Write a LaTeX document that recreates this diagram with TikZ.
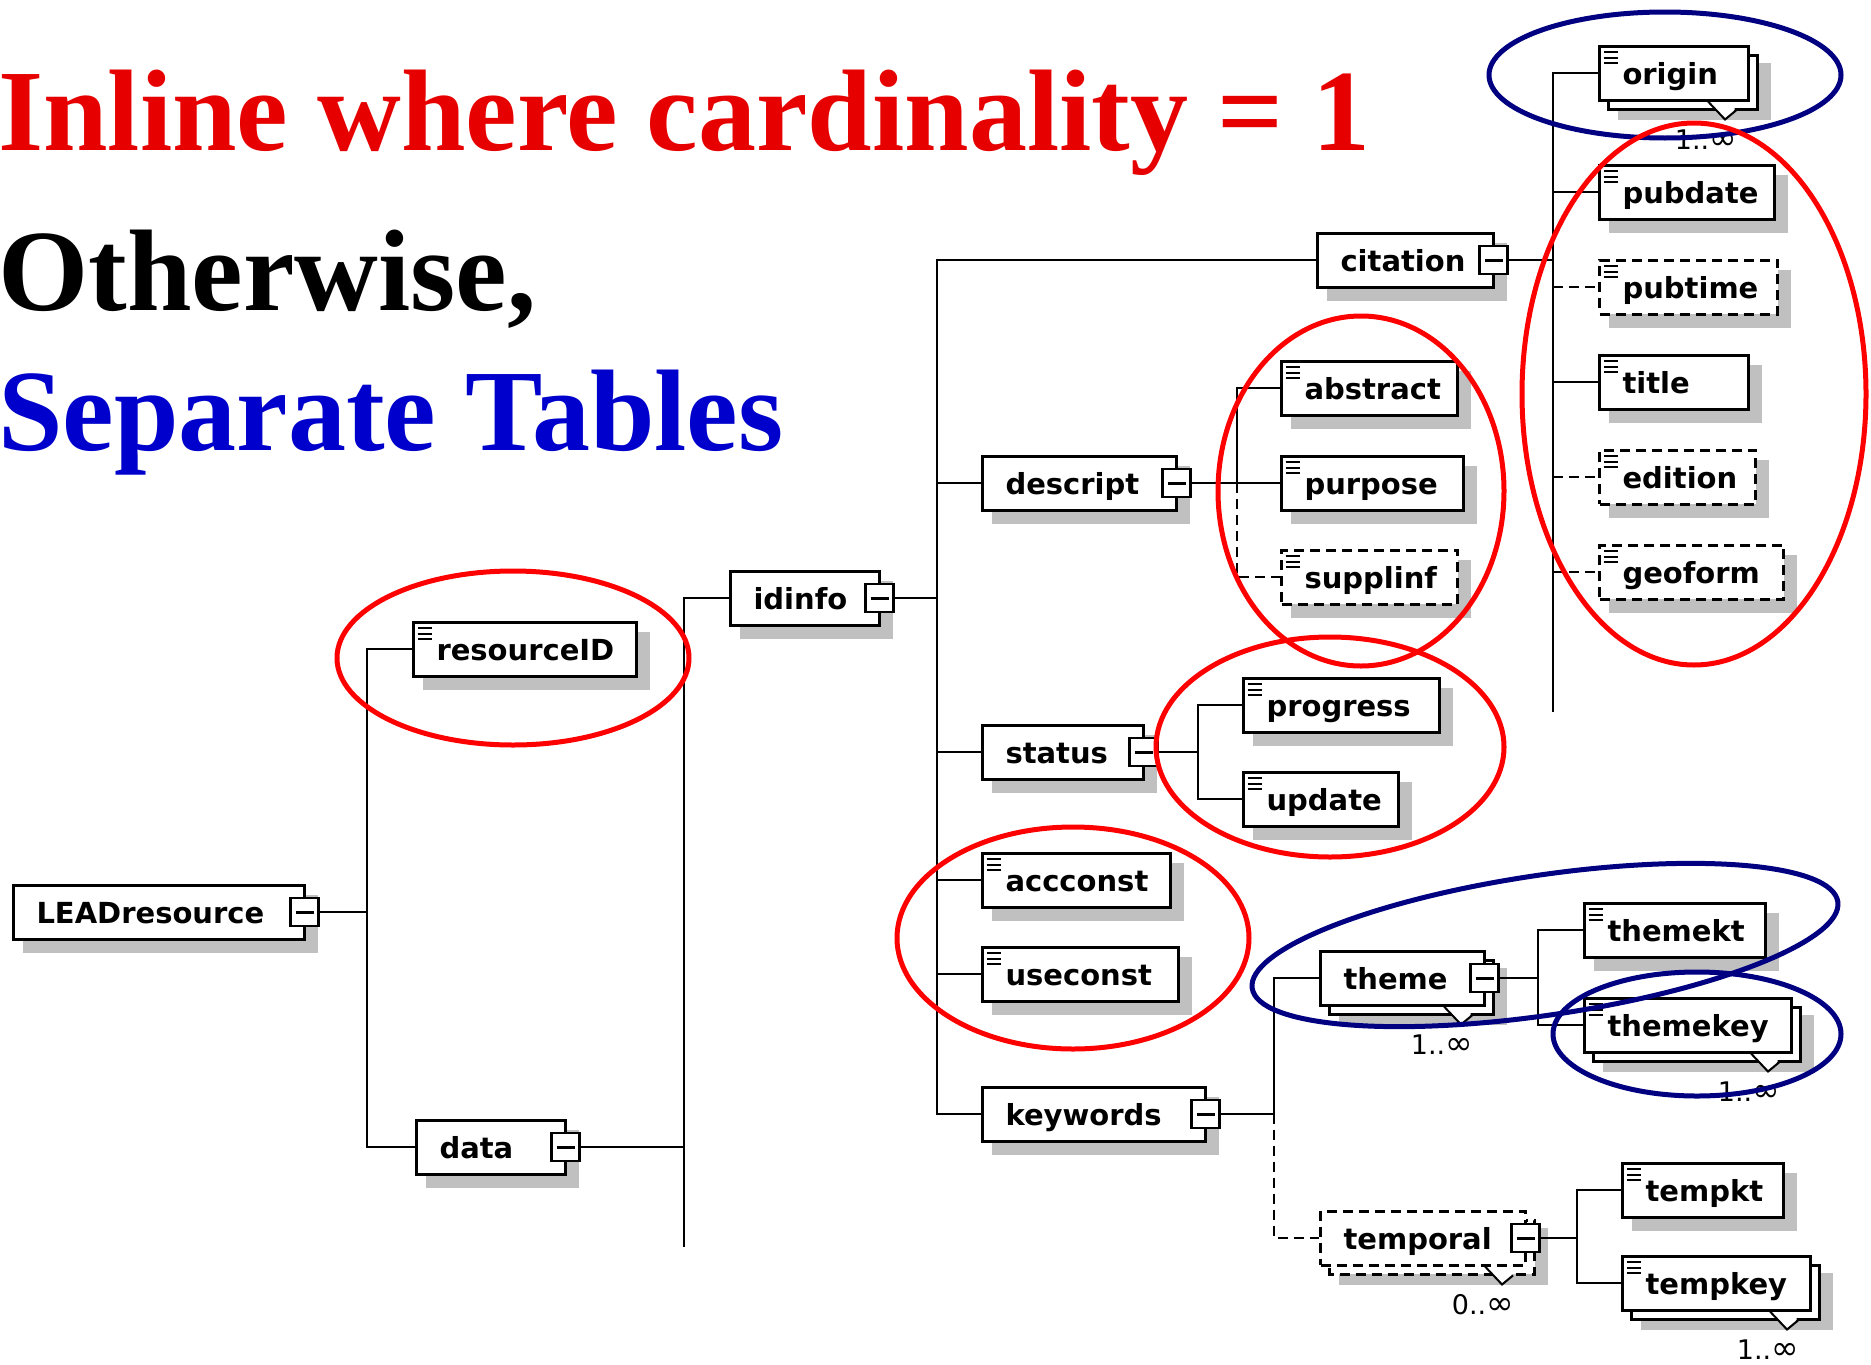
\documentclass[tikz,border=0pt]{standalone}
\usepackage{fontspec}
\newfontfamily\boxfont{DejaVu Sans}
\newfontfamily\titlefont{Liberation Serif}
\definecolor{titlered}{RGB}{230,0,0}
\definecolor{titleblue}{RGB}{0,0,204}
\definecolor{ellred}{RGB}{255,0,0}
\definecolor{ellblue}{RGB}{0,0,128}
\definecolor{shadowgray}{RGB}{192,192,192}
\tikzset{
  conn/.style={line width=2.5pt},
  optconn/.style={line width=2.5pt, dash pattern=on 10pt off 6pt},
  elembox/.style={draw, line width=3pt, fill=white, rectangle, anchor=west,
    inner xsep=23pt, inner ysep=0pt, text height=38.5pt, text depth=15.5pt,
    minimum height=54pt, align=left,
    font=\boxfont\bfseries\fontsize{29}{29}\selectfont},
  optional/.style={dash pattern=on 10pt off 6pt},
  leaf/.style={path picture={
      \draw[solid, line width=2pt]
        ([xshift=4pt,yshift=-6pt]path picture bounding box.north west) -- ++(14pt,0pt)
        ([xshift=4pt,yshift=-11.5pt]path picture bounding box.north west) -- ++(14pt,0pt)
        ([xshift=4pt,yshift=-17pt]path picture bounding box.north west) -- ++(14pt,0pt);}},
  minusbox/.style={draw, solid, line width=2.5pt, fill=white, rectangle,
    minimum width=28pt, minimum height=28pt, inner sep=0pt,
    path picture={\draw[solid, line width=3pt]
      ([xshift=5pt]path picture bounding box.west) -- ([xshift=-5pt]path picture bounding box.east);}},
  backbox/.style={draw, line width=3pt, fill=white},
  multlabel/.style={anchor=base east, inner sep=0pt,
    font=\boxfont\fontsize{27}{27}\selectfont},
  ell/.style={line width=5pt},
  headline/.style={anchor=base west, inner sep=0pt,
    font=\titlefont\bfseries\fontsize{116}{116}\selectfont},
}
\newcommand\infsym{{\fontsize{33}{33}\selectfont ∞}}
% #1 name, #2 x0, #3 x1, #4 cy, #5 text, #6 style
\newcommand\elemnode[6]{%
  \pgfmathsetmacro\elW{#3-#2-3}%
  \pgfmathsetmacro\elT{#3-#2-3-46}%
  \node[elembox,#6,minimum width=\elW pt,text width=\elT pt] (#1) at (#2,#4) {\mbox{#5}};
}
\newcommand\elem[6]{%
  \fill[shadowgray] (#2+11,#4-17.5) rectangle (#3+12,#4+40.5);
  \elemnode{#1}{#2}{#3}{#4}{#5}{#6}
}
% #1 name, #2 x0, #3 x1, #4 cy, #5 text, #6 front style, #7 back style, #8 multiplicity
\newcommand\multielem[8]{%
  \fill[shadowgray] (#2+20,#4-10) rectangle (#3+21,#4+47);
  \draw[backbox,#7] (#2+10.5,#4-18) rectangle (#3+7.5,#4+36);
  \elemnode{#1}{#2}{#3}{#4}{#5}{#6}
  \fill[white] (#3-40,#4+30) -- (#3-25,#4+45) -- (#3-15.5,#4+37) -- (#3-15.5,#4+30) -- cycle;
  \draw[line width=2pt] (#3-42,#4+28.5) -- (#3-25,#4+46.5) -- (#3-14,#4+37.5);
  \node[multlabel] (#1-mult) at (#3-13,#4+76.5) {#8};
}
\newcommand\minusat[1]{\node[minusbox] (#1-m) at ([xshift=-1.5pt]#1.east) {};}

\begin{document}
\begin{tikzpicture}[x=1pt,y=-1pt]
\useasboundingbox (0,0) rectangle (1871,1365);

% titles
\node[headline, text=titlered] (t1) at (-2,150) {Inline where cardinality = 1};
\node[headline, text=black] (t2) at (-2,310) {Otherwise,};
\node[headline, text=titleblue] (t3) at (-2,450) {Separate Tables};

% elements
\elem{LEAD}{12}{306}{912}{LEADresource}{}
\minusat{LEAD}
\elem{resourceID}{412}{638}{649}{resourceID}{leaf}
\elem{data}{415}{567}{1147}{data}{}
\minusat{data}
\elem{idinfo}{729}{881}{598}{idinfo}{}
\minusat{idinfo}
\elem{citation}{1316}{1495}{260}{citation}{}
\minusat{citation}
\multielem{origin}{1598}{1750}{73}{origin}{leaf}{}{1..\infsym}
\elem{pubdate}{1598}{1776}{192}{pubdate}{leaf}
\elem{pubtime}{1598}{1779}{287}{pubtime}{leaf,optional}
\elem{title}{1598}{1750}{382}{title}{leaf}
\elem{edition}{1598}{1757}{477}{edition}{leaf,optional}
\elem{geoform}{1598}{1785}{572}{geoform}{leaf,optional}
\elem{descript}{981}{1178}{483}{descript}{}
\minusat{descript}
\elem{abstract}{1280}{1459}{388}{abstract}{leaf}
\elem{purpose}{1280}{1465}{483}{purpose}{leaf}
\elem{supplinf}{1280}{1459}{577}{supplinf}{leaf,optional}
\elem{status}{981}{1145}{752}{status}{}
\minusat{status}
\elem{progress}{1242}{1441}{705}{progress}{leaf}
\elem{update}{1242}{1400}{799}{update}{leaf}
\elem{accconst}{981}{1172}{880}{accconst}{leaf}
\elem{useconst}{981}{1180}{974}{useconst}{leaf}
\elem{keywords}{981}{1207}{1114}{keywords}{}
\minusat{keywords}
\multielem{theme}{1319}{1486}{978}{theme}{}{}{1..\infsym}
\minusat{theme}
\elem{themekt}{1583}{1767}{930}{themekt}{leaf}
\multielem{themekey}{1583}{1793}{1025}{themekey}{leaf}{}{1..\infsym}
\multielem{temporal}{1319}{1527}{1238}{temporal}{optional}{optional}{0..\infsym}
\minusat{temporal}
\elem{tempkt}{1621}{1785}{1190}{tempkt}{leaf}
\multielem{tempkey}{1621}{1812}{1283}{tempkey}{leaf}{}{1..\infsym}

% bus coordinates
\coordinate (busLead) at (367,0);
\coordinate (busData) at (684,0);
\coordinate (busDataEnd) at (684,1247);
\coordinate (busId) at (937,0);
\coordinate (busCit) at (1553,0);
\coordinate (busCitEnd) at (1553,712);
\coordinate (busDes) at (1237,0);
\coordinate (busSt) at (1198,0);
\coordinate (busKw) at (1274,0);
\coordinate (busTh) at (1538,0);
\coordinate (busTp) at (1577,0);

% LEADresource
\draw[conn] (LEAD-m.east) -- (busLead |- LEAD-m.east);
\draw[conn] (resourceID.west) -- (busLead |- resourceID.west) -- (busLead |- data.west) -- (data.west);
% data
\draw[conn] (data-m.east) -- (busData |- data-m.east);
\draw[conn] (idinfo.west) -- (busData |- idinfo.west) -- (busDataEnd);
% idinfo
\draw[conn] (idinfo-m.east) -- (busId |- idinfo-m.east);
\draw[conn] (citation.west) -- (busId |- citation.west) -- (busId |- keywords.west) -- (keywords.west);
\draw[conn] (busId |- descript.west) -- (descript.west);
\draw[conn] (busId |- status.west) -- (status.west);
\draw[conn] (busId |- accconst.west) -- (accconst.west);
\draw[conn] (busId |- useconst.west) -- (useconst.west);
% citation
\draw[conn] (citation-m.east) -- (busCit |- citation-m.east);
\draw[conn] (origin.west) -- (busCit |- origin.west) -- (busCitEnd);
\draw[conn] (busCit |- pubdate.west) -- (pubdate.west);
\draw[optconn] (busCit |- pubtime.west) -- (pubtime.west);
\draw[conn] (busCit |- title.west) -- (title.west);
\draw[optconn] (busCit |- edition.west) -- (edition.west);
\draw[optconn] (busCit |- geoform.west) -- (geoform.west);
% descript
\draw[conn] (descript-m.east) -- (purpose.west);
\draw[conn] (abstract.west) -- (busDes |- abstract.west) -- (busDes |- purpose.west);
\draw[optconn] (busDes |- purpose.west) -- (busDes |- supplinf.west) -- (supplinf.west);
% status
\draw[conn] (status-m.east) -- (busSt |- status-m.east);
\draw[conn] (progress.west) -- (busSt |- progress.west) -- (busSt |- update.west) -- (update.west);
% keywords
\draw[conn] (keywords-m.east) -- (busKw |- keywords-m.east) -- (busKw |- theme.west) -- (theme.west);
\draw[optconn] (busKw |- keywords-m.east) -- (busKw |- temporal.west) -- (temporal.west);
% theme
\draw[conn] (theme-m.east) -- (busTh |- theme-m.east);
\draw[conn] (themekt.west) -- (busTh |- themekt.west) -- (busTh |- themekey.west) -- (themekey.west);
% temporal
\draw[conn] (temporal-m.east) -- (busTp |- temporal-m.east);
\draw[conn] (tempkt.west) -- (busTp |- tempkt.west) -- (busTp |- tempkey.west) -- (tempkey.west);

% highlight ellipses
\draw[ell, ellblue] (1665,75) ellipse [x radius=176, y radius=63];
\draw[ell, ellred] (1694,394) ellipse [x radius=172, y radius=271];
\draw[ell, ellred] (1361,491) ellipse [x radius=143, y radius=175];
\draw[ell, ellred] (1330,747) ellipse [x radius=174, y radius=110];
\draw[ell, ellred] (513,658) ellipse [x radius=176, y radius=87];
\draw[ell, ellred] (1073,938) ellipse [x radius=176, y radius=111];
\draw[ell, ellblue, rotate around={8.4:(1545,945)}] (1545,945) ellipse [x radius=296, y radius=70];
\draw[ell, ellblue] (1697,1034) ellipse [x radius=144, y radius=62];
\end{tikzpicture}
\end{document}
